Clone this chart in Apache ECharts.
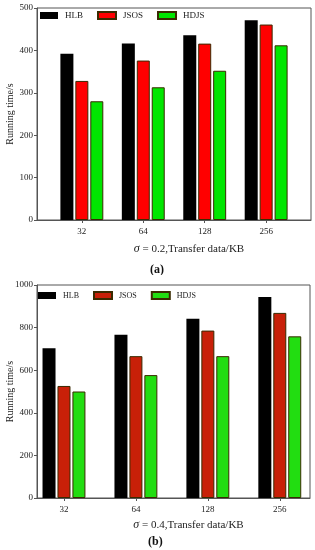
<!DOCTYPE html>
<html><head><meta charset="utf-8">
<script src="https://cdn.jsdelivr.net/npm/echarts@6/dist/echarts.min.js"></script>
<style>html,body{margin:0;padding:0;background:#fff}#a,#b{width:315px;height:275px}</style>
</head><body><div id="a"></div><div id="b"></div>
<script>
const categories = ['32', '64', '128', '256'];
const seriesNames = ['HLB', 'JSOS', 'HDJS'];
const hlbA = [392, 416, 436, 471];
const jsosA = [328, 376, 416, 461];
const hdjsA = [280, 313, 352, 412];
const hlbB = [703, 767, 842, 944];
const jsosB = [526, 666, 786, 869];
const hdjsB = [500, 577, 666, 759];
const xNameA = '= 0.2,Transfer data/KB';
const xNameB = '= 0.4,Transfer data/KB';
const yName = 'Running time/s';
const panelA = '(a)';
const panelB = '(b)';

const FONT = 'Liberation Serif';
const positions = categories.map((c, i) => i + 1);

function build(p) {
  const colors = p.colors;
  const mk = (name, vals, k) => ({
    name: name, type: 'bar', barWidth: 13, barGap: '15%',
    data: vals.map((v, i) => [positions[i], v]),
    itemStyle: { color: colors[k], borderColor: k === 0 ? colors[0] : '#3a2a00', borderWidth: k === 0 ? 0 : 1 }
  });
  return {
    animation: false,
    textStyle: { fontFamily: FONT },
    grid: { left: 37, top: p.top, width: p.width, height: p.height, containLabel: false, outerBoundsMode: 'none',
      show: true, borderColor: '#555', borderWidth: 1, backgroundColor: 'transparent' },
    legend: {
      left: p.legendLeft, top: p.legendTop, itemWidth: 18, itemHeight: 7, itemGap: 14, padding: 0,
      icon: 'rect', textStyle: { fontFamily: FONT, fontSize: p.legendFont, color: '#222', padding: [0, 0, 0, 2] },
      data: seriesNames
    },
    xAxis: {
      type: 'value', min: p.xmin, max: p.xmax,
      name: '{i|σ} ' + p.xName, nameLocation: 'middle', nameGap: p.xNameGap, nameMoveOverlap: false,
      nameTextStyle: { fontFamily: FONT, fontSize: 11, color: '#222', padding: [0, 0, 0, 30],
        rich: { i: { fontFamily: FONT, fontStyle: 'italic', fontSize: 12, color: '#222' } } },
      axisLine: { show: true, lineStyle: { color: '#555' } },
      axisTick: { show: true, customValues: positions, length: 3, lineStyle: { color: '#555' } },
      axisLabel: { customValues: positions, formatter: v => categories[Math.round(v) - 1], fontFamily: FONT, fontSize: 9, color: '#222', margin: 7 },
      splitLine: { show: false }
    },
    yAxis: {
      type: 'value', min: 0, max: p.ymax, interval: p.yint,
      name: yName, nameLocation: 'middle', nameGap: 22, nameMoveOverlap: false,
      nameTextStyle: { fontFamily: FONT, fontSize: 10, color: '#222' },
      axisLine: { show: true, lineStyle: { color: '#555' } },
      axisTick: { show: true, length: 3, lineStyle: { color: '#555' } },
      axisLabel: { formatter: v => String(v), fontFamily: FONT, fontSize: 9, color: '#222', margin: 4 },
      splitLine: { show: false }
    },
    title: {
      text: p.panel, left: p.panelX, top: p.panelY, padding: 0,
      textStyle: { fontFamily: FONT, fontSize: 12, fontWeight: 'bold', color: '#111' }
    },
    series: [mk('HLB', p.d[0], 0), mk('JSOS', p.d[1], 1), mk('HDJS', p.d[2], 2)]
  };
}

echarts.init(document.getElementById('a')).setOption(build({
  top: 8, width: 274, height: 212, xmin: 0.27, xmax: 4.73, ymax: 500, yint: 100,
  legendLeft: 40, legendTop: 11, legendFont: 9, xNameGap: 23,
  colors: ['#000000', '#ff0000', '#00e600'],
  xName: xNameA, panel: panelA, panelX: 150, panelY: 264,
  d: [hlbA, jsosA, hdjsA]
}));
echarts.init(document.getElementById('b')).setOption(build({
  top: 10, width: 273, height: 213, xmin: 0.625, xmax: 4.42, ymax: 1000, yint: 200,
  legendLeft: 38, legendTop: 16, legendFont: 8, xNameGap: 21,
  colors: ['#000000', '#c82008', '#22dd11'],
  xName: xNameB, panel: panelB, panelX: 148, panelY: 261,
  d: [hlbB, jsosB, hdjsB]
}));
</script></body></html>
